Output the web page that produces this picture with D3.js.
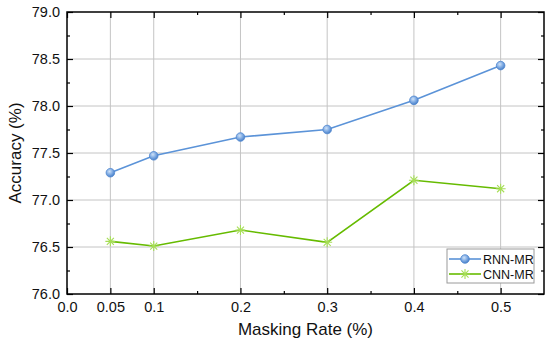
<!DOCTYPE html>
<html>
<head>
<meta charset="utf-8">
<script src="https://cdn.jsdelivr.net/npm/d3@7"></script>
<style>
  body { margin: 0; background: #fff; }
  svg { display: block; font-family: "Liberation Sans", Arial, sans-serif; }
</style>
</head>
<body>
<div id="chart"></div>
<script>
// data
const rates = [0.05, 0.1, 0.2, 0.3, 0.4, 0.5]
const rnnMR = [77.29, 77.47, 77.67, 77.75, 78.06, 78.43]
const cnnMR = [76.56, 76.51, 76.68, 76.55, 77.21, 77.12]
const xTicks = [0.0, 0.05, 0.1, 0.2, 0.3, 0.4, 0.5]
const xMinor = [0.15, 0.25, 0.35, 0.45]
const yTicks = [76.0, 76.5, 77.0, 77.5, 78.0, 78.5, 79.0]
const yMinor = [76.25, 76.75, 77.25, 77.75, 78.25, 78.75]

const width = 550
const height = 350
const margin = { top: 12, right: 6, bottom: 56, left: 67 }
const iw = width - margin.left - margin.right
const ih = height - margin.top - margin.bottom

const blue = '#5b93d8'
const green = '#66bb00'

const svg = d3.select('#chart').append('svg')
  .attr('width', width)
  .attr('height', height)

const defs = svg.append('defs')
const grad = defs.append('radialGradient')
  .attr('id', 'ball')
  .attr('cx', '40%').attr('cy', '35%').attr('r', '65%')
grad.append('stop').attr('offset', '0%').attr('stop-color', '#cfe2f8')
grad.append('stop').attr('offset', '55%').attr('stop-color', '#7fabe3')
grad.append('stop').attr('offset', '100%').attr('stop-color', '#4a80c8')

const g = svg.append('g').attr('transform', `translate(${margin.left},${margin.top})`)

const x = d3.scaleLinear().domain([0, 0.55]).range([0, iw])
const y = d3.scaleLinear().domain([76, 79]).range([ih, 0])

// grid
g.append('g').selectAll('line')
  .data(xTicks.filter(d => d > 0))
  .join('line')
  .attr('x1', d => x(d)).attr('x2', d => x(d))
  .attr('y1', 0).attr('y2', ih)
  .attr('stroke', '#c4c4c4').attr('stroke-width', 1)
g.append('g').selectAll('line')
  .data(yTicks.filter(d => d > 76 && d < 79))
  .join('line')
  .attr('x1', 0).attr('x2', iw)
  .attr('y1', d => y(d)).attr('y2', d => y(d))
  .attr('stroke', '#c4c4c4').attr('stroke-width', 1)

// axes, ticks pointing inward on all sides
function styleAxis(sel) {
  sel.select('.domain').remove()
  sel.selectAll('line').attr('stroke', '#000').attr('stroke-width', 1.2)
  sel.selectAll('text').attr('fill', '#111').style('font-size', '14.5px')
}

const xFmt = d => d === 0 ? '0.0' : String(d)
g.append('g').attr('transform', `translate(0,${ih})`)
  .call(d3.axisBottom(x).tickValues(xTicks).tickFormat(xFmt).tickSizeInner(-6).tickPadding(8))
  .call(styleAxis)
g.append('g').attr('transform', `translate(0,${ih})`)
  .call(d3.axisBottom(x).tickValues(xMinor).tickFormat('').tickSizeInner(-3))
  .call(styleAxis)
g.append('g')
  .call(d3.axisTop(x).tickValues(xTicks).tickFormat('').tickSizeInner(-6))
  .call(styleAxis)
g.append('g')
  .call(d3.axisTop(x).tickValues(xMinor).tickFormat('').tickSizeInner(-3))
  .call(styleAxis)

g.append('g')
  .call(d3.axisLeft(y).tickValues(yTicks).tickFormat(d3.format('.1f')).tickSizeInner(-6).tickPadding(7))
  .call(styleAxis)
g.append('g')
  .call(d3.axisLeft(y).tickValues(yMinor).tickFormat('').tickSizeInner(-3))
  .call(styleAxis)
g.append('g').attr('transform', `translate(${iw},0)`)
  .call(d3.axisRight(y).tickValues(yTicks).tickFormat('').tickSizeInner(-6))
  .call(styleAxis)
g.append('g').attr('transform', `translate(${iw},0)`)
  .call(d3.axisRight(y).tickValues(yMinor).tickFormat('').tickSizeInner(-3))
  .call(styleAxis)

// frame
g.append('rect')
  .attr('width', iw).attr('height', ih)
  .attr('fill', 'none').attr('stroke', '#000').attr('stroke-width', 1.5)

// lines
const line = d3.line().x(d => x(d[0])).y(d => y(d[1]))
const rnnPts = rates.map((r, i) => [r, rnnMR[i]])
const cnnPts = rates.map((r, i) => [r, cnnMR[i]])

g.append('path').datum(rnnPts).attr('d', line)
  .attr('fill', 'none').attr('stroke', blue).attr('stroke-width', 1.6)
g.append('path').datum(cnnPts).attr('d', line)
  .attr('fill', 'none').attr('stroke', green).attr('stroke-width', 1.6)

function ball(sel) {
  sel.append('circle').attr('r', 4.3)
    .attr('fill', 'url(#ball)').attr('stroke', '#4f86cf').attr('stroke-width', 0.8)
}
function star(sel) {
  const r = 5
  const s = r * Math.SQRT1_2
  const p = `M${-r},0L${r},0M0,${-r}L0,${r}M${-s},${-s}L${s},${s}M${-s},${s}L${s},${-s}`
  sel.append('path').attr('d', p).attr('stroke', '#a6de55').attr('stroke-width', 1.1).attr('fill', 'none')
}

g.append('g').selectAll('g').data(rnnPts).join('g')
  .attr('transform', d => `translate(${x(d[0])},${y(d[1])})`)
  .call(ball)
g.append('g').selectAll('g').data(cnnPts).join('g')
  .attr('transform', d => `translate(${x(d[0])},${y(d[1])})`)
  .call(star)

// legend
const lg = svg.append('g').attr('transform', 'translate(447,249)')
lg.append('rect').attr('width', 87).attr('height', 34)
  .attr('fill', '#fff').attr('stroke', '#9a9a9a').attr('stroke-width', 1)
const items = [
  { name: 'RNN-MR', color: blue, marker: ball },
  { name: 'CNN-MR', color: green, marker: star }
]
items.forEach((it, i) => {
  const row = lg.append('g').attr('transform', `translate(0,${10 + i * 15})`)
  row.append('line').attr('x1', 2).attr('x2', 34).attr('y1', 0).attr('y2', 0)
    .attr('stroke', it.color).attr('stroke-width', 1.6)
  row.append('g').attr('transform', 'translate(18,0)').call(it.marker)
  row.append('text').attr('x', 36).attr('y', 4.5)
    .style('font-size', '12.5px').attr('fill', '#111').text(it.name)
})

// axis titles
svg.append('text')
  .attr('x', margin.left + x(0.275)).attr('y', 335)
  .attr('text-anchor', 'middle').style('font-size', '17px').attr('fill', '#111')
  .text('Masking Rate (%)')
svg.append('text')
  .attr('transform', `translate(21,${margin.top + ih / 2}) rotate(-90)`)
  .attr('text-anchor', 'middle').style('font-size', '17px').attr('fill', '#111')
  .text('Accuracy (%)')
</script>
</body>
</html>
